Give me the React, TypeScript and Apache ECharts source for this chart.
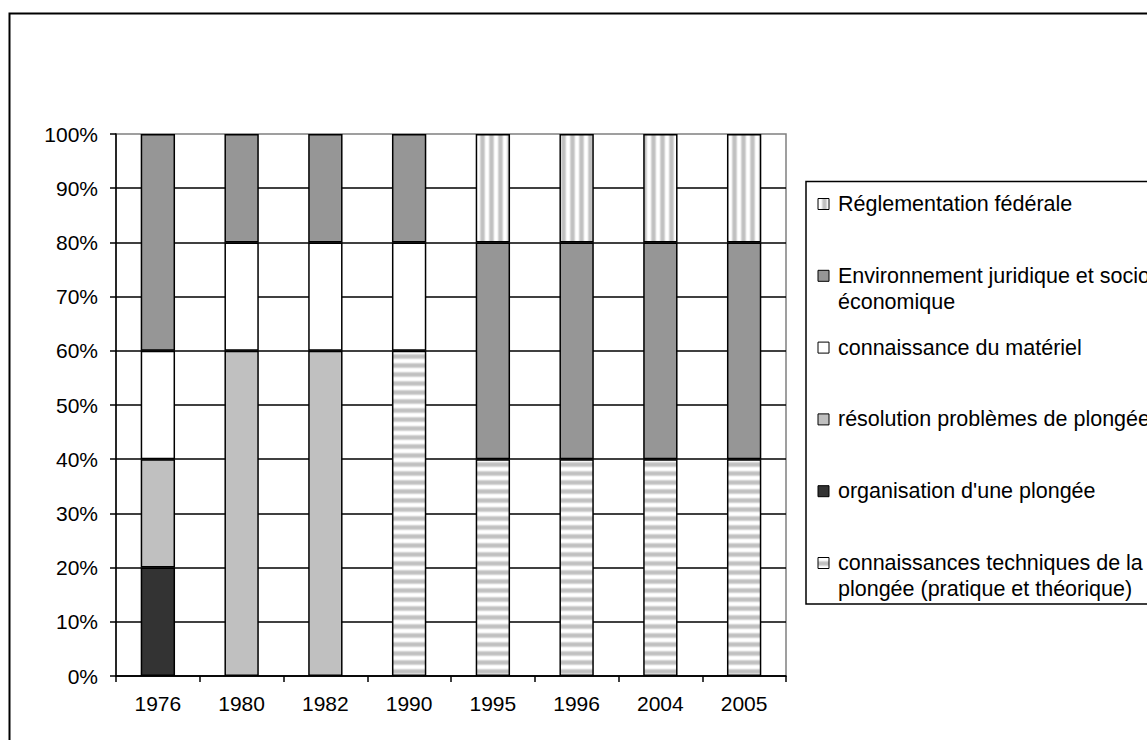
import React, { useEffect, useRef } from 'react';
import * as echarts from 'echarts';

const categories = ['1976', '1980', '1982', '1990', '1995', '1996', '2004', '2005'];

// values in % (stack order from bottom to top)
const techValues = [0, 0, 0, 60, 40, 40, 40, 40];
const orgValues = [20, 0, 0, 0, 0, 0, 0, 0];
const resValues = [20, 60, 60, 0, 0, 0, 0, 0];
const matValues = [20, 20, 20, 20, 0, 0, 0, 0];
const envValues = [40, 20, 20, 20, 40, 40, 40, 40];
const regValues = [0, 0, 0, 0, 20, 20, 20, 20];

const seriesNames = [
  'connaissances techniques de la plongée (pratique et théorique)',
  "organisation d'une plongée",
  'résolution problèmes de plongée',
  'connaissance du matériel',
  'Environnement juridique et socio-économique',
  'Réglementation fédérale',
];
const legendLabels = [
  'connaissances techniques de la\nplongée (pratique et théorique)',
  "organisation d'une plongée",
  'résolution problèmes de plongée',
  'connaissance du matériel',
  'Environnement juridique et socio-\néconomique',
  'Réglementation fédérale',
];

const FONT = 'Arial, "Liberation Sans", sans-serif';

function stripePattern(vertical: boolean) {
  const profile = ['#ffffff', '#ffffff', '#f4f4f4', '#d8d8d8', '#c4c4c4', '#c0c0c0', '#c4c4c4', '#d8d8d8', '#f4f4f4'];
  const n = profile.length;
  const c = document.createElement('canvas');
  c.width = vertical ? n : 4;
  c.height = vertical ? 4 : n;
  const ctx = c.getContext('2d')!;
  profile.forEach((col, i) => {
    ctx.fillStyle = col;
    if (vertical) ctx.fillRect(i, 0, 1, 4);
    else ctx.fillRect(0, i, 4, 1);
  });
  return { image: c.toDataURL(), repeat: 'repeat', imageWidth: c.width, imageHeight: c.height } as any;
}

export default function App() {
  const ref = useRef<HTMLDivElement>(null);
  useEffect(() => {
    if (!ref.current) return;
    const chart = echarts.init(ref.current, undefined, { renderer: 'svg' });
    const hPat = stripePattern(false);
    const vPat = stripePattern(true);
    const fills: any[] = [hPat, '#333333', '#c0c0c0', '#ffffff', '#969696', vPat];
    const datas = [techValues, orgValues, resValues, matValues, envValues, regValues];

    const series = seriesNames.map((name, i) => ({
      name,
      type: 'bar',
      stack: 'total',
      barWidth: '41%',
      data: datas[i].map((v) => (v === 0 ? null : v)),
      itemStyle: { color: fills[i], borderColor: '#000', borderWidth: 1.5 },
      emphasis: { disabled: true },
    }));

    // legend drawn as graphic (top item = last series)
    const legendEls: any[] = [
      {
        type: 'rect',
        shape: { x: 806, y: 181.5, width: 600, height: 422.5 },
        style: { fill: '#ffffff', stroke: '#000', lineWidth: 1.5 },
        z: 10,
      },
    ];
    const order = [5, 4, 3, 2, 1, 0];
    order.forEach((si, k) => {
      const cy = 204 + k * 71.8;
      legendEls.push({
        type: 'rect',
        shape: { x: 818, y: cy - 5.5, width: 11, height: 11 },
        style: { fill: fills[si], stroke: '#000', lineWidth: 1 },
        z: 11,
      });
      legendEls.push({
        type: 'text',
        x: 838,
        y: cy - 13,
        style: {
          text: legendLabels[si],
          fontSize: 21.5,
          fontFamily: FONT,
          lineHeight: 26,
          fill: '#000',
          verticalAlign: 'top',
          align: 'left',
        },
        z: 11,
      });
    });

    chart.setOption({
      animation: false,
      backgroundColor: '#ffffff',
      grid: {
        left: 116,
        top: 134,
        width: 670,
        height: 542,
        show: true,
        borderColor: '#808080',
        borderWidth: 1.5,
        backgroundColor: 'transparent',
      },
      xAxis: {
        type: 'category',
        data: categories,
        boundaryGap: true,
        axisLine: { show: true, lineStyle: { color: '#000', width: 1.5 } },
        axisTick: { show: true, length: 6, lineStyle: { color: '#000', width: 1.5 } },
        axisLabel: { color: '#000', fontSize: 21, fontFamily: FONT, margin: 17 },
        splitLine: { show: false },
      },
      yAxis: {
        type: 'value',
        min: 0,
        max: 100,
        interval: 10,
        axisLine: { show: true, lineStyle: { color: '#000', width: 1.5 } },
        axisTick: { show: true, length: 6, lineStyle: { color: '#000', width: 1.5 } },
        axisLabel: { color: '#000', fontSize: 21, fontFamily: FONT, margin: 18, formatter: '{value}%' },
        splitLine: { show: true, showMaxLine: false, lineStyle: { color: '#000', width: 1.5 } },
      },
      series,
      graphic: [
        {
          type: 'rect',
          shape: { x: 9.5, y: 13.5, width: 1400, height: 1000 },
          style: { fill: 'none', stroke: '#000', lineWidth: 2 },
          z: 12,
        },
        ...legendEls,
      ],
    });
    return () => chart.dispose();
  }, []);
  return <div ref={ref} style={{ position: 'absolute', left: 0, top: 0, width: 1147, height: 740 }} />;
}
